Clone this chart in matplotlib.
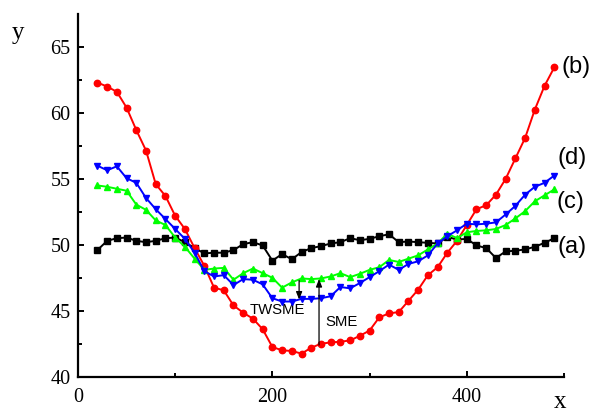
import matplotlib
matplotlib.use("Agg")
import matplotlib.pyplot as plt

# Sample positions along the specimen
x = [20, 30, 40, 50, 60, 70, 80, 90, 100, 110, 120, 130, 140, 150, 160, 170,
     180, 190, 200, 210, 220, 230, 240, 250, 260, 270, 280, 290, 300, 310, 320, 330,
     340, 350, 360, 370, 380, 390, 400, 410, 420, 430, 440, 450, 460, 470, 480, 490]

# (a) reference profile
y_a = [49.6, 50.3, 50.5, 50.55, 50.3, 50.2, 50.3, 50.5, 50.55, 50.2, 49.75, 49.35,
       49.4, 49.4, 49.6, 50.05, 50.2, 49.95, 48.8, 49.3, 48.9, 49.45, 49.75, 49.9,
       50.1, 50.2, 50.5, 50.35, 50.45, 50.65, 50.8, 50.2, 50.25, 50.2, 50.15, 50.1,
       50.6, 50.4, 50.45, 49.95, 49.75, 49.0, 49.5, 49.55, 49.65, 49.85, 50.15, 50.5]

# (b) SME profile
y_b = [62.3, 62.0, 61.6, 60.4, 58.7, 57.15, 54.6, 53.7, 52.2, 51.2, 49.75, 48.4,
       46.75, 46.55, 45.4, 44.85, 44.4, 43.6, 42.25, 42.0, 41.95, 41.75, 42.2, 42.5,
       42.6, 42.65, 42.75, 43.1, 43.5, 44.5, 44.8, 44.9, 45.75, 46.6, 47.7, 48.3,
       49.4, 50.3, 51.5, 52.7, 53.0, 53.8, 55.0, 56.55, 58.1, 60.25, 62.05, 63.45]

# (c) profile
y_c = [54.5, 54.4, 54.25, 54.1, 53.05, 52.65, 51.85, 51.5, 50.55, 49.85, 48.95, 48.1,
       48.2, 48.25, 47.35, 47.85, 48.2, 47.85, 47.5, 46.75, 47.15, 47.45, 47.4, 47.45,
       47.6, 47.85, 47.55, 47.8, 48.1, 48.3, 48.85, 48.7, 48.95, 49.2, 49.65, 50.1,
       50.85, 50.5, 50.95, 51.05, 51.1, 51.2, 51.5, 52.0, 52.55, 53.3, 53.75, 54.2]

# (d) profile
y_d = [56.0, 55.65, 55.95, 55.05, 54.7, 53.55, 52.7, 51.95, 51.2, 50.45, 49.4, 48.0,
       47.6, 47.7, 46.95, 47.4, 47.35, 47.0, 45.95, 45.7, 45.7, 45.9, 45.9, 45.95,
       46.1, 46.8, 46.7, 47.1, 47.55, 48.0, 48.5, 48.1, 48.55, 48.75, 49.2, 50.1,
       50.65, 51.1, 51.6, 51.55, 51.6, 51.7, 52.3, 52.95, 53.8, 54.4, 54.7, 55.25]

curve_labels = ["(a)", "(b)", "(c)", "(d)"]

serif = ["Liberation Serif", "DejaVu Serif"]
sans = ["Liberation Sans", "DejaVu Sans"]

fig = plt.figure(figsize=(5.98, 4.12), dpi=100)
ax = fig.add_axes([0.1304, 0.0857, 0.8127, 0.8803])

lw = 1.4
ax.plot(x, y_a, color="#000000", lw=lw, marker="s", ms=4.3, zorder=3)
ax.plot(x, y_b, color="#ff0000", lw=lw, marker="o", ms=4.6, zorder=4)
ax.plot(x, y_c, color="#00ff00", lw=lw, marker="^", ms=5, zorder=5)
ax.plot(x, y_d, color="#0000ff", lw=lw, marker="v", ms=5, zorder=6)

ax.set_xlim(0, 500)
ax.set_ylim(40, 67.5)
ax.set_xticks([0, 200, 400])
ax.set_xticks([100, 300, 500], minor=True)
ax.set_yticks([40, 45, 50, 55, 60, 65])
ax.set_yticks([42.5, 47.5, 52.5, 57.5, 62.5], minor=True)

for side in ("top", "right"):
    ax.spines[side].set_visible(False)
for side in ("left", "bottom"):
    ax.spines[side].set_linewidth(1.6)

ax.tick_params(which="both", direction="in", width=1.4, colors="black")
ax.tick_params(which="major", length=4.5)
ax.tick_params(which="minor", length=3)
ax.tick_params(axis="y", pad=5.5)
ax.tick_params(axis="x", pad=8)
for lab in ax.get_xticklabels() + ax.get_yticklabels():
    lab.set_fontfamily(serif)
    lab.set_fontsize(14.5)

# axis letters
fig.text(18 / 598, 1 - 33 / 412, "y", family=serif, fontsize=18,
         ha="center", va="center")
fig.text(560 / 598, 1 - 402 / 412, "x", family=serif, fontsize=18,
         ha="center", va="center")

# curve labels at the right end
label_pos = {"(a)": (493.5, 49.4), "(b)": (497, 63.0),
             "(c)": (492.5, 52.8), "(d)": (493.5, 56.15)}
for name in curve_labels:
    px, py = label_pos[name]
    ax.text(px, py, name, family=sans, fontsize=17, ha="left", va="baseline")

# TWSME and SME arrows
arrow_kw = dict(arrowstyle="-|>,head_length=0.45,head_width=0.18",
                color="black", lw=0.9, shrinkA=0, shrinkB=0)
ax.annotate("", xy=(227.5, 45.85), xytext=(227.5, 47.3),
            arrowprops=arrow_kw, zorder=7)
ax.annotate("", xy=(248, 47.4), xytext=(248, 42.4),
            arrowprops=arrow_kw, zorder=7)
ax.text(205.1, 44.76, "TWSME", family=sans, fontsize=10.7,
        ha="center", va="baseline")
ax.text(271.5, 43.85, "SME", family=sans, fontsize=10.7,
        ha="center", va="baseline")

fig.savefig("out.png", dpi=100)
